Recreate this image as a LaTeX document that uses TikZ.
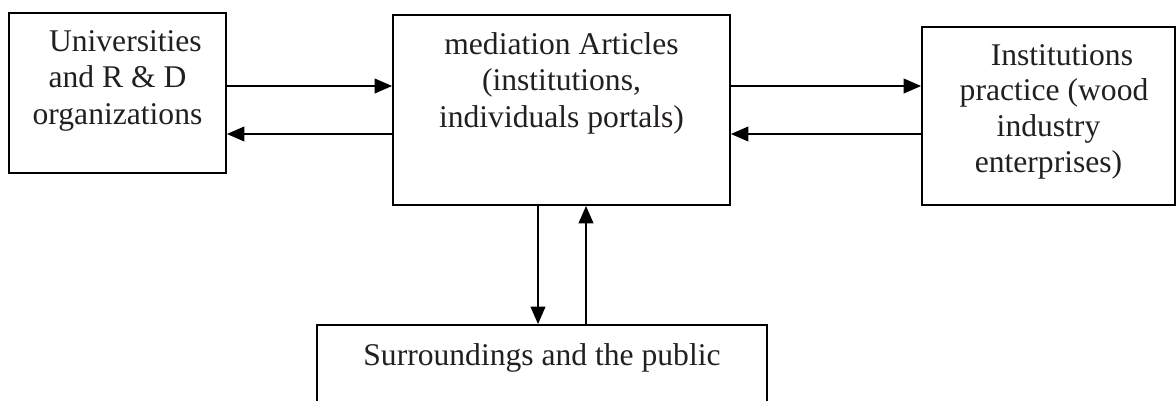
\documentclass[tikz,border=0pt]{standalone}
\usepackage{fontspec}
\setmainfont{Liberation Serif}
\usetikzlibrary{arrows.meta}
\definecolor{textgray}{RGB}{35,31,32}

\begin{document}
\begin{tikzpicture}[
        x=0.75pt, y=-0.75pt,
        box/.style={
            draw,
            line width=1.4pt,
            inner sep=0pt
        },
        boxtext/.style={
            anchor=north,
            align=center,
            inner sep=0pt,
            yshift=-13.5pt,
            text=textgray,
            font=\fontsize{23.7}{27.5}\selectfont
        },
        flow/.style={
            line width=1.3pt,
            -{Triangle[length=13pt,width=11pt]}
        }
    ]

    \clip (0,0) rectangle (1176,400);

    \node[box, minimum width=162.75pt, minimum height=120pt] (univ) at (117.5,93) {};
    \node[box, minimum width=252.75pt, minimum height=142.5pt] (media) at (561.5,110) {};
    \node[box, minimum width=189.75pt, minimum height=133.5pt] (practice) at (1048.5,116) {};
    \node[box, minimum width=337.5pt, minimum height=75pt] (public) at (542,375) {};

    \node[boxtext] (univtext) at (univ.north)
        {\hspace*{0.5em}Universities\\and R \& D\\organizations};
    \node[boxtext] (mediatext) at (media.north)
        {mediation Articles\\(institutions,\\individuals portals)};
    \node[boxtext, font=\fontsize{23.7}{26.8}\selectfont] (practicetext) at (practice.north)
        {\hspace*{0.85em}Institutions\\\hspace*{0.35em}practice (wood\\industry\\enterprises)};
    \node[boxtext, yshift=-1pt] (publictext) at (public.north)
        {Surroundings and the public};

    % rows and columns of the connectors
    \coordinate (upper) at (0,86);
    \coordinate (lower) at (0,134);
    \coordinate (down) at (538,0);
    \coordinate (up) at (586,0);

    \draw[flow] (univ.east |- upper) -- (media.west |- upper);
    \draw[flow] (media.west |- lower) -- (univ.east |- lower);

    \draw[flow] (media.east |- upper) -- (practice.west |- upper);
    \draw[flow] (practice.west |- lower) -- (media.east |- lower);

    \draw[flow] (media.south -| down) -- (public.north -| down);
    \draw[flow] (public.north -| up) -- (media.south -| up);

\end{tikzpicture}
\end{document}
